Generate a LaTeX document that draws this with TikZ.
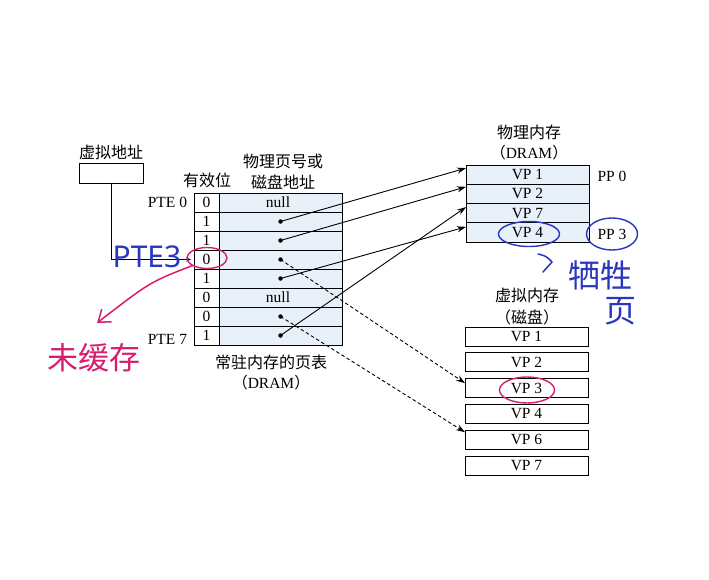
\documentclass[tikz,border=0pt]{standalone}
\usepackage{fontspec}
\setmainfont{Liberation Serif}
\newfontfamily\cjk{Noto Sans CJK SC}
\newfontfamily\hand{Noto Sans}
\usetikzlibrary{arrows.meta,calc,shapes.geometric}
\definecolor{cellblue}{RGB}{232,240,250}
\definecolor{inkblue}{RGB}{40,55,190}
\definecolor{inkred}{RGB}{215,30,110}
\begin{document}
\begin{tikzpicture}[x=1pt,y=-1pt,
  every node/.style={inner sep=0pt, outer sep=0pt},
  txt/.style={font=\fontsize{15.5}{18}\selectfont},
  ctxt/.style={font=\fontsize{16}{18}\selectfont\cjk},
  vcell/.style={draw, line width=0.9pt, minimum width=25pt, minimum height=19pt, txt},
  acell/.style={draw, line width=0.9pt, fill=cellblue, minimum width=123pt, minimum height=19pt, txt},
  mcell/.style={draw, line width=0.9pt, fill=cellblue, minimum width=123pt, minimum height=19.25pt, txt},
  dcell/.style={draw, line width=0.9pt, minimum width=123pt, minimum height=19pt, txt},
  ptr/.style={line width=0.9pt, -{Stealth[length=9pt,width=6pt]}},
  dptr/.style={ptr, dash pattern=on 3.5pt off 2.5pt},
  dotnode/.style={circle, fill, minimum size=4.5pt},
  bluering/.style={ellipse, draw=inkblue, line width=1.4pt},
  redring/.style={ellipse, draw=inkred, line width=1.4pt},
  bluehand/.style={text=inkblue, font=\fontsize{30}{30}\selectfont\hand},
  bluecjk/.style={text=inkblue, font=\fontsize{32}{32}\selectfont\cjk},
  redcjk/.style={text=inkred, font=\fontsize{31}{31}\selectfont\cjk}
]
\useasboundingbox (0,0) rectangle (709,580);
\fill[white] (0,0) rectangle (709,580);

% virtual address
\node[ctxt] (valbl) at (111,152) {虚拟地址};
\node[draw, line width=0.9pt, minimum width=64pt, minimum height=20pt] (va) at (111,173) {};

% page table
\foreach \b [count=\i from 0] in {0,1,1,0,1,0,0,1} {
  \node[vcell] (v\i) at (206.5,{202.5+19*\i}) {\b};
  \node[acell] (a\i) at (280.5,{202.5+19*\i}) {};
}
\node[txt] (n0) at (278,202.5) {null};
\node[txt] (n5) at (278,297.5) {null};
\foreach \i in {1,2,3,4,6,7} {
  \node[dotnode] (p\i) at (a\i.center) {};
}
\node[ctxt] (hv) at (207,180) {有效位};
\node[ctxt] (ha1) at (283,161) {物理页号或};
\node[ctxt] (ha2) at (283,182) {磁盘地址};
\node[txt, anchor=east] (pte0) at (187,202.5) {PTE 0};
\node[txt, anchor=east] (pte7) at (187,339) {PTE 7};
\node[ctxt] (pt1) at (271,362) {常驻内存的页表};
\node[txt] (pt2) at (271,383) {{\cjk （}DRAM{\cjk ）}};

% physical memory
\node[ctxt] (pm1) at (529,132) {物理内存};
\node[txt] (pm2) at (529,153) {{\cjk （}DRAM{\cjk ）}};
\foreach \t [count=\i] in {VP 1,VP 2,VP 7,VP 4} {
  \node[mcell] (m\i) at (527.5,{174.6+19.25*(\i-1)}) {\t};
}
\node[txt] (pp0) at (612,176) {PP 0};
\node[txt] (pp3) at (612,234) {PP 3};

% disk
\node[ctxt] (dm1) at (527,295) {虚拟内存};
\node[ctxt] (dm2) at (527,317) {（磁盘）};
\foreach \t [count=\i] in {VP 1,VP 2,VP 3,VP 4,VP 6,VP 7} {
  \node[dcell] (d\i) at (526.5,{336.5+25.8*(\i-1)}) {\t};
}

% connectors
\draw[line width=0.9pt, -{Stealth[length=5pt,width=4pt]}, shorten >=3pt] (va.south) |- (v3.west);
\draw[ptr] (p1.center) -- ([yshift=6.5pt]m1.west);
\draw[ptr] (p2.center) -- ([yshift=7pt]m2.west);
\draw[ptr] (p4.center) -- ([yshift=5.5pt]m4.west);
\draw[ptr] (p7.center) -- ([yshift=6pt]m3.west);
\draw[dptr] (p3.center) -- ([yshift=5pt]d3.west);
\draw[dptr] (p6.center) -- ([yshift=7.5pt]d5.west);

% handwritten annotations
\node[bluehand] (h1) at (147,257) {PTE3};
\node[redring, minimum width=40pt, minimum height=21pt] (c3) at (207,258) {};
\node[redcjk] (h2) at (94,358) {未缓存};
\coordinate (rtip) at (97,323);
\draw[inkred, line width=1.5pt, -{Straight Barb[length=11pt,width=16pt]}] (c3.south west) .. controls (150,282) .. (rtip);
\node[bluering, minimum width=61pt, minimum height=25pt] (c4) at (529,234) {};
\node[bluering, minimum width=51pt, minimum height=32pt] (c5) at (612,234) {};
\node[redring, minimum width=55pt, minimum height=26pt] (c6) at (527,390) {};
\draw[inkblue, line width=1.5pt, line cap=round, line join=round] (538,254) .. controls (546,256) .. (552,262) -- (543,272);
\node[bluecjk] (h3) at (600,275) {牺牲};
\node[bluecjk] (h4) at (620,311) {页};
\end{tikzpicture}
\end{document}
